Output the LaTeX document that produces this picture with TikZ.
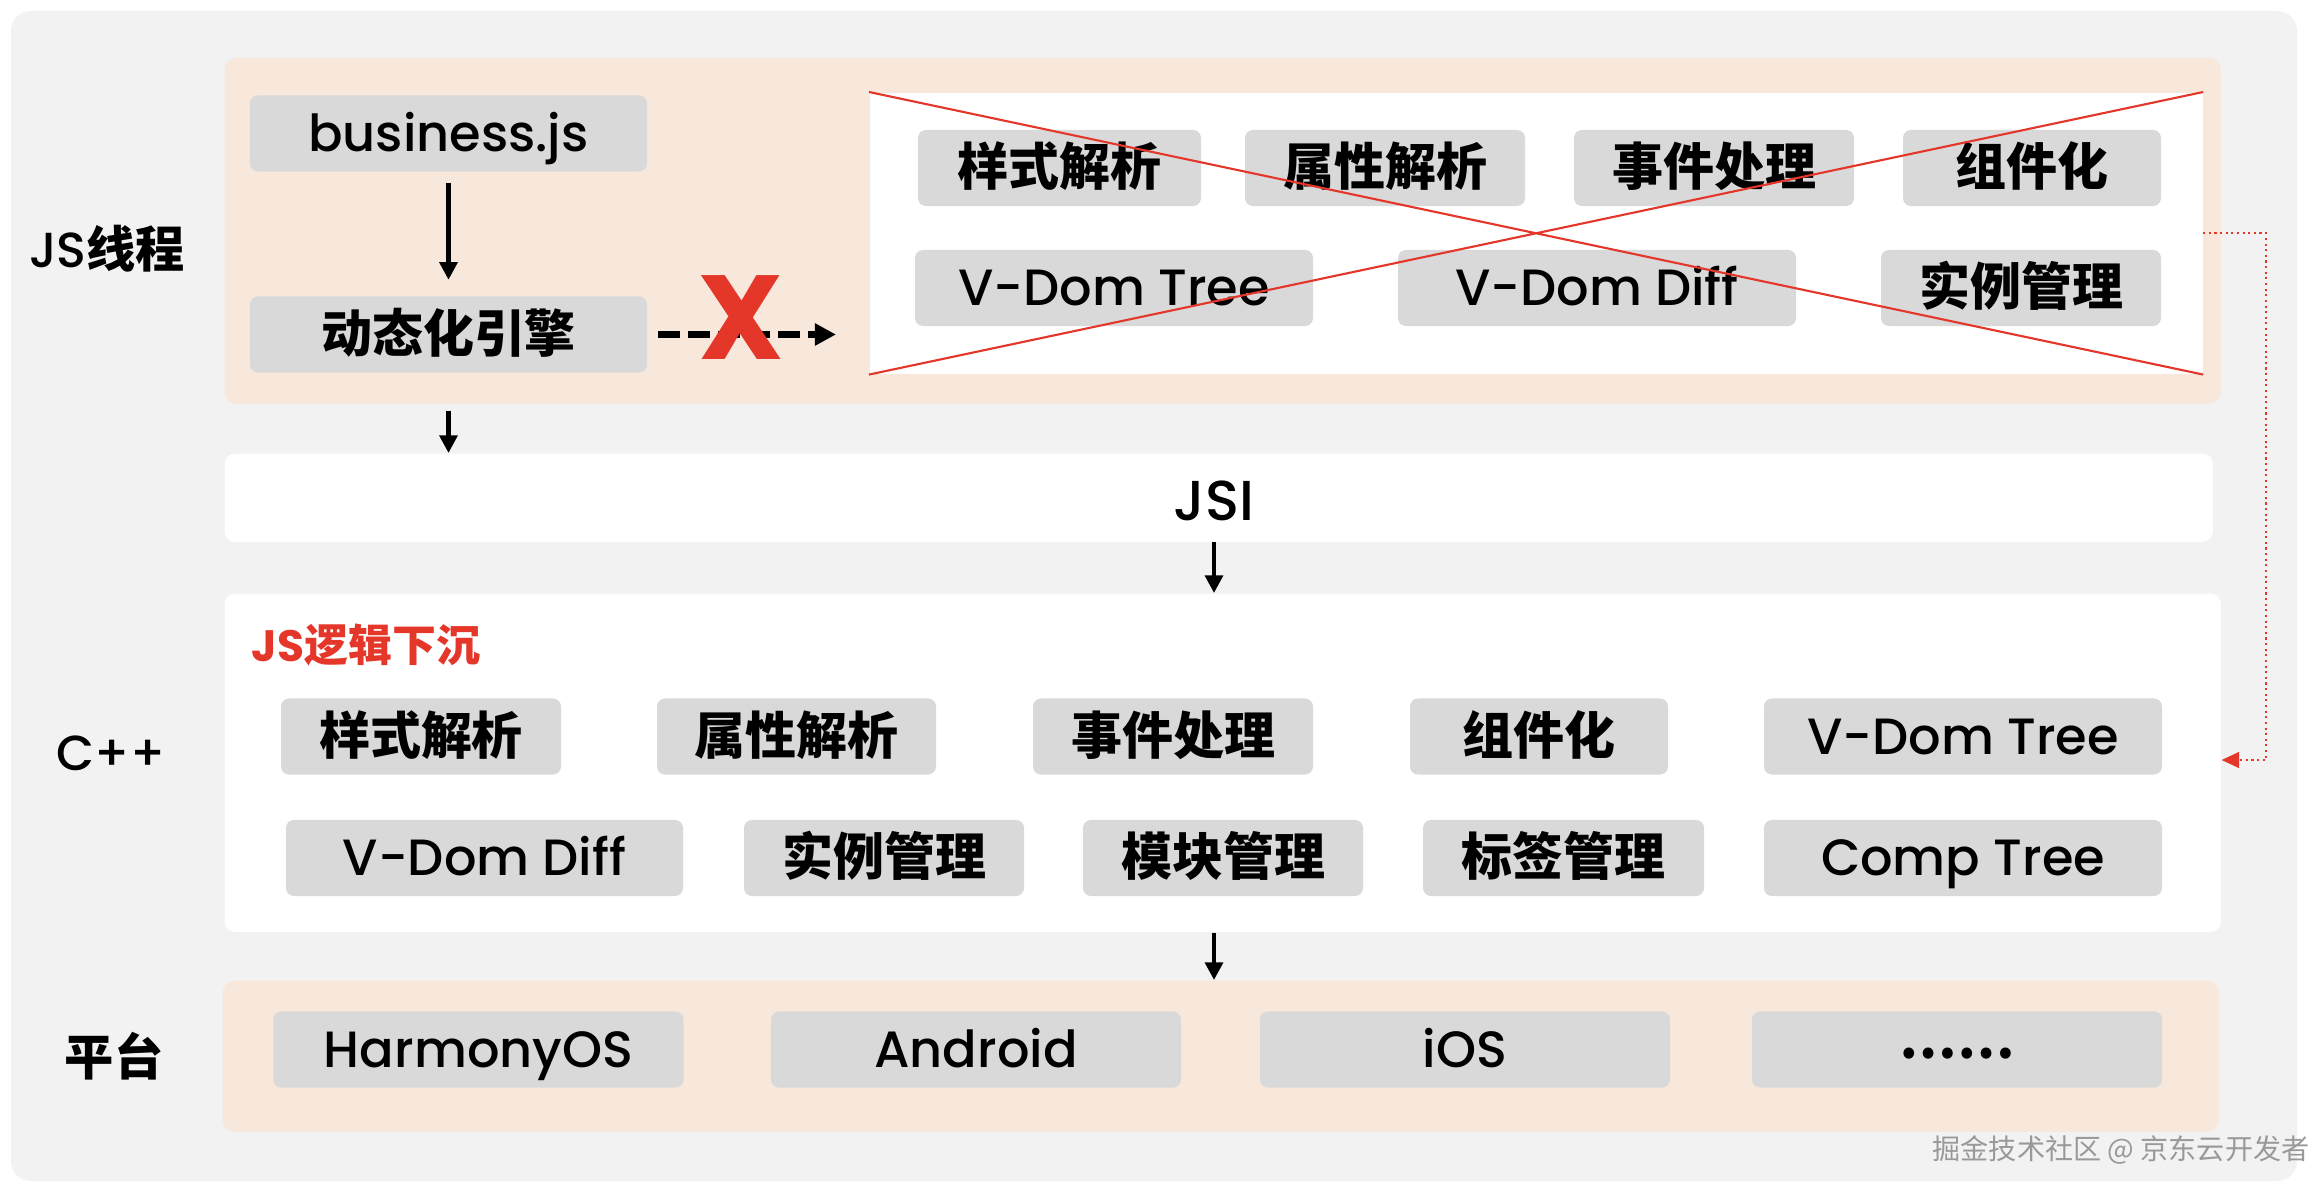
\documentclass[tikz,border=0pt]{standalone}
\usepackage{fontspec}
\setmainfont{Poppins}[UprightFont={* Medium},BoldFont={* Bold}]
\newfontfamily\cjk{Noto Sans CJK SC}
\usetikzlibrary{positioning, arrows.meta, backgrounds}
\definecolor{paper}{HTML}{F2F2F2}
\definecolor{peach}{HTML}{F7E8DB}
\definecolor{chipgray}{HTML}{D9D9D9}
\definecolor{alert}{HTML}{E5362A}
\newcommand\zh[1]{{\cjk\bfseries #1}}

\begin{document}
\begin{tikzpicture}[
  x=0.01cm, y=-0.01cm,
  every node/.style={inner sep=0mm},
  chip/.style={fill=chipgray, rounded corners=0.8mm, minimum height=7.6mm, text height=10pt, text depth=0pt, font=\fontsize{14.5}{17}\selectfont},
  layer/.style={fill=peach, rounded corners=1.2mm, anchor=north west},
  sheet/.style={fill=white, rounded corners=1mm, anchor=north west},
  side/.style={text height=10pt, text depth=0pt, font=\fontsize{14}{16}\selectfont},
  flow/.style={-{Triangle[length=5pt,width=5pt]}, line width=1.2pt},
]

\useasboundingbox (0,0) rectangle (2318,1194);
\fill[white] (0,0) rectangle (2318,1194);
\fill[paper, rounded corners=2mm] (11,11) rectangle (2297,1181);

\node[layer, minimum width=19.95cm, minimum height=3.46cm] (js) at (224,57) {};
\node[sheet, rounded corners=0mm, minimum width=13.32cm, minimum height=2.81cm] (cross) at (869,92) {};
\node[sheet, minimum width=19.87cm, minimum height=8.8mm] (jsi) at (224,453) {};
\node[sheet, minimum width=19.95cm, minimum height=3.38cm] (cpp) at (224,593) {};
\node[layer, minimum width=19.95cm, minimum height=1.51cm] (plat) at (222,980) {};

\node[side] (lblJs) at (107,250) {JS\zh{线程}};
\node[side] (lblCpp) at (111,753) {C++};
\node[side] (lblPlat) at (114,1058) {\zh{平台}};
\node[side, text height=11pt, font=\fontsize{16}{18}\selectfont] (jsiText) at (1214,501) {JSI};
\node[anchor=west, text=alert, font=\fontsize{12.5}{14}\selectfont\bfseries] (sink) at (251,645) {JS\zh{逻辑下沉}};

\node[chip, minimum width=3.97cm] (biz) at (448.5,133.5) {business.js};
\node[chip, minimum width=3.97cm] (eng) at (448.5,334.5) {\zh{动态化引擎}};

\foreach \cx/\w/\t [count=\i] in {1059.5/283/\zh{样式解析}, 1385/280/\zh{属性解析}, 1714/280/\zh{事件处理}, 2032/258/\zh{组件化}}
  \node[chip, minimum width=\w*0.01cm] (old\i) at (\cx,168) {\t};
\foreach \cx/\w/\t [count=\i] in {1114/398/V-Dom Tree, 1597/398/V-Dom Diff, 2021/280/\zh{实例管理}}
  \node[chip, minimum width=\w*0.01cm] (oldb\i) at (\cx,288) {\t};

\foreach \cx/\w/\t [count=\i] in {421/280/\zh{样式解析}, 796.5/279/\zh{属性解析}, 1173/280/\zh{事件处理}, 1539/258/\zh{组件化}, 1963/398/V-Dom Tree}
  \node[chip, minimum width=\w*0.01cm] (core\i) at (\cx,736.5) {\t};
\foreach \cx/\w/\t [count=\i] in {484.5/397/V-Dom Diff, 884/280/\zh{实例管理}, 1223/280/\zh{模块管理}, 1563.5/281/\zh{标签管理}, 1963/398/Comp Tree}
  \node[chip, minimum width=\w*0.01cm] (coreb\i) at (\cx,858) {\t};

\foreach \cx/\t [count=\i] in {478.5/HarmonyOS, 976/Android, 1465/iOS, 1957/{\zh{\raisebox{2.5pt}{……}}}}
  \node[chip, minimum width=4.1cm] (os\i) at (\cx,1049.5) {\t};

\draw[alert, line width=0.6pt] (cross.north west) -- (cross.south east) (cross.south west) -- (cross.north east);

\draw[flow, shorten <=0.11cm, shorten >=0.16cm] (biz) -- (eng);
\draw[flow, line width=1.8pt, dash pattern=on 0.22cm off 0.08cm, -{Triangle[length=6pt,width=6pt]}, shorten <=0.1cm, shorten >=0.33cm] (eng.east) -- (eng.east -| cross.west);
\node[text=alert, font=\fontsize{34}{34}\selectfont\bfseries] (nox) at (741,318) {X};

\draw[flow, shorten <=0.06cm] (js.south -| biz) -- (jsi.north -| biz);
\draw[flow] (jsiText.south |- jsi.south) -- (jsiText.south |- cpp.north);
\draw[flow] (jsiText.south |- cpp.south) -- (jsiText.south |- plat.north);

\coordinate (bend) at (2266,760);
\draw[alert, densely dotted, line width=0.6pt, -{Triangle[length=5pt,width=4.5pt]}] (cross.east) -| (bend) -- (bend -| cpp.east);

\node[text=gray!80, font=\fontsize{8}{9}\selectfont] (mark) at (2121,1150) {\cjk 掘金技术社区 @ 京东云开发者};

\end{tikzpicture}
\end{document}
